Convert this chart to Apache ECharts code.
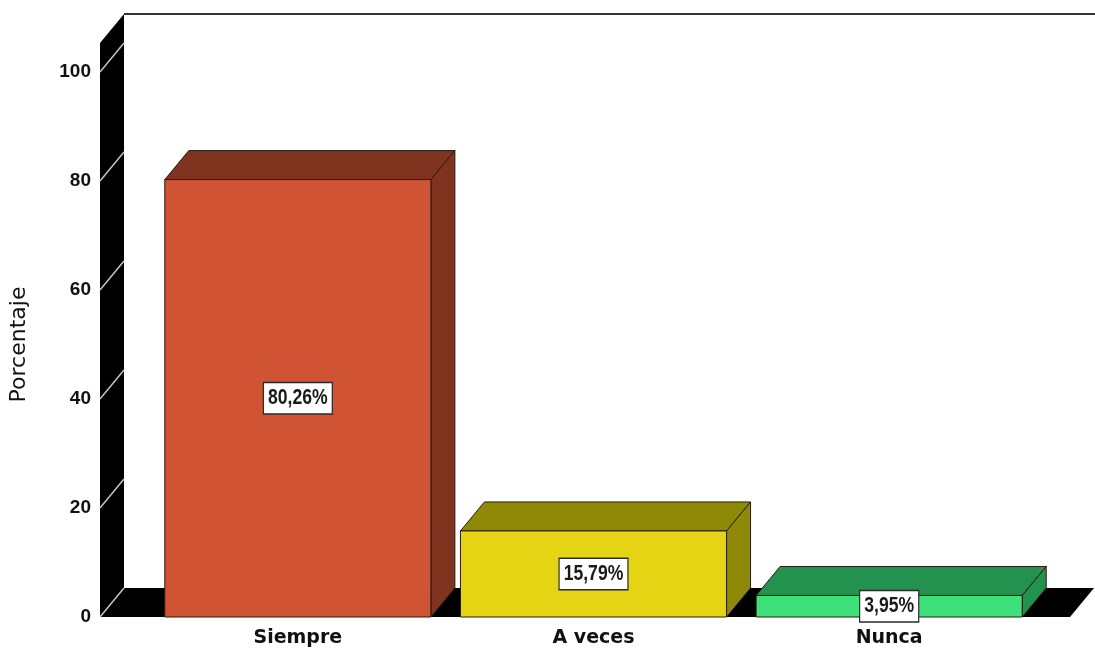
<!DOCTYPE html>
<html><head><meta charset="utf-8">
<script src="https://cdn.jsdelivr.net/npm/echarts/dist/echarts.min.js"></script>
<style>html,body{margin:0;padding:0;background:#fff}#c{width:1095px;height:656px}</style>
</head><body><div id="c"></div>
<script>
const categories = ['Siempre', 'A veces', 'Nunca'];
const values = [80.26, 15.79, 3.95];
const valueLabels = ['80,26%', '15,79%', '3,95%'];
const yTicks = [0, 20, 40, 60, 80, 100];
const frontColors = ['#D05434', '#E4D414', '#3EE07A'];
const sideColors = ['#80331F', '#8E8A07', '#24924F'];
const DX = 24, DY = -29, WALL_TOP = 105.3;

const chart = echarts.init(document.getElementById('c'), null, {renderer: 'canvas'});

function renderFrame(params, api) {
  const cs = params.coordSys;
  const y0 = api.coord([0, 0])[1];
  const yTop = api.coord([0, WALL_TOP])[1];
  const xL = cs.x - 50, xR = cs.x + cs.width + 33;
  const children = [];
  children.push({type: 'polygon', shape: {points: [[xL, y0], [xL, yTop], [xL + DX, yTop + DY], [xL + DX, y0 + DY]]}, style: {fill: '#000'}});
  children.push({type: 'polygon', shape: {points: [[xL, y0], [xR, y0], [xR + DX, y0 + DY], [xL + DX, y0 + DY]]}, style: {fill: '#000'}});
  yTicks.forEach(t => {
    const y = api.coord([0, t])[1];
    children.push({type: 'line', shape: {x1: xL, y1: y, x2: xL + DX, y2: y + DY}, style: {stroke: '#c4c4c4', lineWidth: 1.5}});
  });
  children.push({type: 'line', shape: {x1: xL + DX, y1: yTop + DY, x2: api.getWidth(), y2: yTop + DY}, style: {stroke: '#333', lineWidth: 2}});
  return {type: 'group', children};
}

function renderBar(params, api) {
  const i = api.value(0), v = api.value(1);
  const p = api.coord([i, v]);
  const cx = p[0], yT = p[1];
  const y0 = api.coord([i, 0])[1];
  const w = api.size([1, 0])[0] * 0.9;
  const xl = cx - w / 2, xr = cx + w / 2;
  const stroke = '#2a1c10';
  const side = sideColors[i], front = frontColors[i];
  return {type: 'group', children: [
    {type: 'polygon', shape: {points: [[xl, yT], [xr, yT], [xr + DX, yT + DY], [xl + DX, yT + DY]]}, style: {fill: side, stroke, lineWidth: 1}},
    {type: 'polygon', shape: {points: [[xr, yT], [xr + DX, yT + DY], [xr + DX, y0 + DY], [xr, y0]]}, style: {fill: side, stroke, lineWidth: 1}},
    {type: 'rect', shape: {x: xl, y: yT, width: w, height: y0 - yT}, style: {fill: front, stroke, lineWidth: 1}},
    {type: 'text', x: cx, y: (yT + y0) / 2, scaleX: 0.8, style: {
      text: valueLabels[i], fill: '#1a1a1a',
      font: 'bold 22px "Liberation Sans", Arial, sans-serif',
      align: 'center', verticalAlign: 'middle',
      backgroundColor: '#fff', borderColor: '#2a2a2a', borderWidth: 1.5, padding: [4, 5, 4, 5]
    }}
  ]};
}

chart.setOption({
  animation: false,
  backgroundColor: '#fff',
  grid: {left: 150, right: 58, top: 72, bottom: 39, outerBoundsMode: 'none', containLabel: false},
  xAxis: {
    type: 'category', data: categories,
    axisLine: {show: false}, axisTick: {show: false}, splitLine: {show: false},
    axisLabel: {margin: 12, color: '#111', fontWeight: 'bold', fontSize: 19, fontFamily: '"DejaVu Sans", sans-serif'}
  },
  yAxis: {
    type: 'value', min: 0, max: 100, interval: 20,
    axisLine: {show: false}, axisTick: {show: false}, splitLine: {show: false},
    axisLabel: {margin: 59, color: '#111', fontWeight: 'bold', fontSize: 19, fontFamily: '"Liberation Sans", Arial, sans-serif'},
    name: 'Porcentaje', nameLocation: 'middle', nameGap: 120,
    nameTextStyle: {color: '#111', fontSize: 22, fontFamily: '"DejaVu Sans", sans-serif'}
  },
  series: [
    {type: 'custom', z: 1, clip: false, renderItem: renderFrame, data: [[0, 0]], silent: true},
    {type: 'custom', z: 2, clip: false, renderItem: renderBar, data: values.map((v, i) => [i, v]), encode: {x: 0, y: 1}}
  ]
});
</script></body></html>
